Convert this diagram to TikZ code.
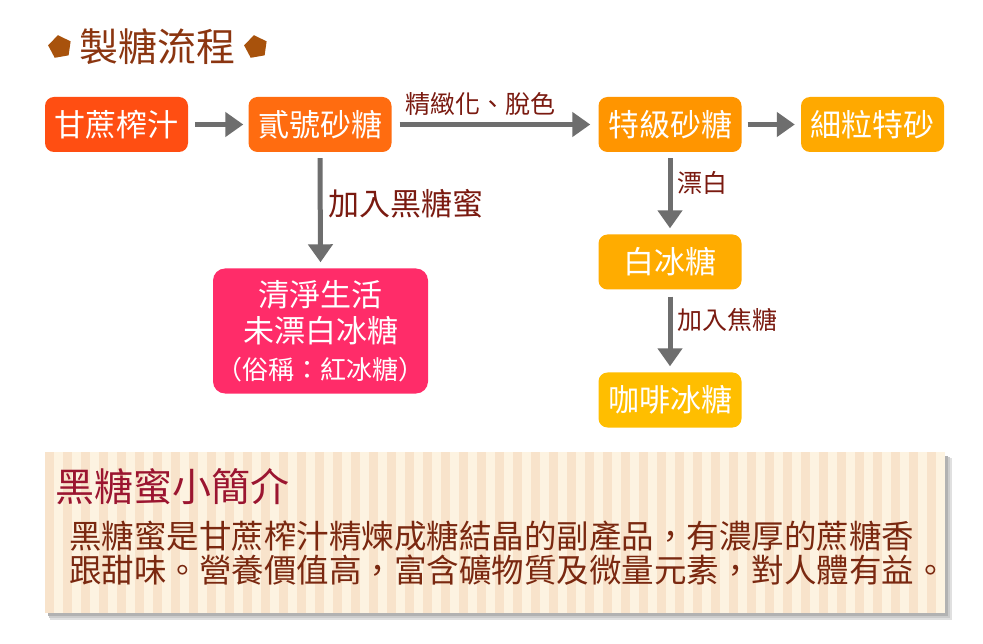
\documentclass[tikz,border=0pt]{standalone}
\usepackage{fontspec}
\setmainfont{Noto Sans CJK TC}
\usetikzlibrary{arrows.meta,shapes.geometric}
\definecolor{cA}{HTML}{FF4E12}
\definecolor{cB}{HTML}{FF6C10}
\definecolor{cC}{HTML}{FF9500}
\definecolor{cD}{HTML}{FFA900}
\definecolor{cE}{HTML}{FFAC00}
\definecolor{cF}{HTML}{FFBE00}
\definecolor{cPink}{HTML}{FF2C69}
\definecolor{cArrow}{HTML}{6E6E6E}
\definecolor{cLabel}{HTML}{7A1A10}
\definecolor{cTitle}{HTML}{8B3510}
\definecolor{cPent}{HTML}{A8520C}
\definecolor{cPanelTitle}{HTML}{9B1530}
\definecolor{cBody}{HTML}{7A2810}
\definecolor{cStripeA}{HTML}{FDF3E1}
\definecolor{cStripeB}{HTML}{F8E3CB}
\tikzset{
  stepbox/.style={rounded corners=9pt, minimum width=143pt, minimum height=55pt, inner sep=0pt, text=white, font=\fontsize{31}{34}\selectfont},
  flowarrow/.style={draw=cArrow, line width=5pt, -{Triangle[length=18pt,width=24pt]}},
  steplabel/.style={text=cLabel, font=\fontsize{25}{28}\selectfont, inner sep=0pt},
  pent/.style={regular polygon, regular polygon sides=5, fill=cPent, minimum size=24pt, inner sep=0pt, rotate=10}
}
\begin{document}
\begin{tikzpicture}[x=1pt,y=-1pt]
\useasboundingbox (0,0) rectangle (983,644);
\fill[white] (0,0) rectangle (983,644);
% title
\node[pent] (p1) at (60,47) {};
\node[text=cTitle, font=\fontsize{39}{42}\selectfont, inner sep=0pt] (title) at (157.5,47) {製糖流程};
\node[pent] (p2) at (256,47) {};
% boxes
\node[stepbox, fill=cA] (a) at (116.5,124.5) {甘蔗榨汁};
\node[stepbox, fill=cB] (b) at (320,124.5) {貳號砂糖};
\node[stepbox, fill=cC] (c) at (670,124.5) {特級砂糖};
\node[stepbox, fill=cD] (d) at (872.5,124.5) {細粒特砂};
\node[stepbox, fill=cE] (e) at (670,262) {白冰糖};
\node[stepbox, fill=cF] (f) at (670,400) {咖啡冰糖};
\node[rounded corners=12pt, fill=cPink, minimum width=215pt, minimum height=125pt, inner sep=0pt, text=white, align=center, font=\fontsize{31}{36.5}\selectfont] (g) at (320.5,331) {清淨生活\\未漂白冰糖\\{\fontsize{26}{36.5}\selectfont （俗稱：紅冰糖）}};
% arrows
\draw[flowarrow] ([xshift=7pt]a.east) -- ([xshift=-5pt]b.west);
\draw[flowarrow] ([xshift=8pt]b.east) -- ([xshift=-8pt]c.west);
\draw[flowarrow] ([xshift=6pt]c.east) -- ([xshift=-6pt]d.west);
\draw[flowarrow] ([yshift=-6pt]b.south) -- ([yshift=6pt]g.north);
\draw[flowarrow] ([yshift=-6pt]c.south) -- ([yshift=6pt]e.north);
\draw[flowarrow] ([yshift=-7pt]e.south) -- ([yshift=6pt]f.north);
% labels
\node[steplabel] (l1) at (480,104) {精緻化、脫色};
\node[steplabel, anchor=west, font=\fontsize{31}{34}\selectfont] (l2) at (328,204) {加入黑糖蜜};
\node[steplabel, anchor=west] (l3) at (677,183) {漂白};
\node[steplabel, anchor=west] (l4) at (677,320) {加入焦糖};
% panel shadow
\fill[black!12] (50,458) rectangle (952,620);
\fill[black!20] (49,457) rectangle (950,618);
\fill[black!30] (48,456) rectangle (948,616);
% panel
\fill[cStripeA] (45,452) rectangle (945,613);
\foreach \i in {0,...,49} {
  \fill[cStripeB] ({45+18*\i},452) rectangle ({54+18*\i},613);
}
\node[anchor=west, text=cPanelTitle, font=\fontsize{39}{42}\selectfont, inner sep=0pt] (pt) at (55,487) {黑糖蜜小簡介};
\node[anchor=north west, text=cBody, align=left, font=\fontsize{32.5}{33.5}\selectfont, inner sep=0pt] (body) at (69,521) {黑糖蜜是甘蔗榨汁精煉成糖結晶的副產品，有濃厚的蔗糖香\\跟甜味。營養價值高，富含礦物質及微量元素，對人體有益。};
\end{tikzpicture}
\end{document}
